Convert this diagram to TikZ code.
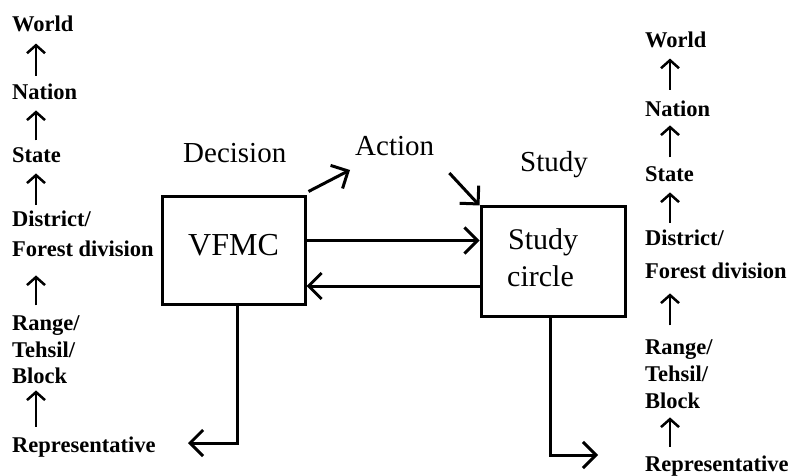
\documentclass[tikz,border=0pt]{standalone}
\usepackage{fontspec}
\setmainfont{Liberation Serif}
\usetikzlibrary{arrows.meta}
\begin{document}
\begin{tikzpicture}[x=1pt,y=-1pt,
  lvl/.style={anchor=base west, inner sep=0pt, font=\bfseries\fontsize{22.5}{27}\selectfont},
  lab/.style={anchor=base west, inner sep=0pt, font=\fontsize{29}{34}\selectfont},
  boxtext/.style={anchor=base west, inner sep=0pt, font=\fontsize{30}{35}\selectfont},
  blk/.style={draw, line width=3pt, minimum width=143pt, minimum height=107pt, inner sep=0pt},
  big/.style={line width=3pt, -{Straight Barb[length=13pt,width=26pt]}},
  up/.style={line width=2.5pt, -{Straight Barb[length=8pt,width=18pt]}},
]
\useasboundingbox (0,0) rectangle (796,476);

% left column
\node[lvl] (lW) at (12,32) {World};
\node[lvl] (lN) at (12,100) {Nation};
\node[lvl] (lS) at (12,163) {State};
\node[lvl] (lD) at (12,226) {District/};
\node[lvl] (lF) at (12,257) {Forest division};
\node[lvl] (lR) at (12,330) {Range/};
\node[lvl] (lT) at (12,357) {Tehsil/};
\node[lvl] (lB) at (12,383) {Block};
\node[lvl] (lRep) at (12,452) {Representative};
\coordinate (lax) at (36,0);
\draw[up, shorten <=8.5pt, shorten >=11pt] (lN.north -| lax) -- (lW.south -| lax);
\draw[up, shorten <=7.5pt, shorten >=10pt] (lS.north -| lax) -- (lN.south -| lax);
\draw[up, shorten <=5pt, shorten >=10pt] (lD.north -| lax) -- (lS.south -| lax);
\draw[up, shorten <=9.5pt, shorten >=18pt] (lR.north -| lax) -- (lF.south -| lax);
\draw[up, shorten <=9.5pt, shorten >=7pt] (lRep.north -| lax) -- (lB.south -| lax);

% right column
\node[lvl] (rW) at (645,48) {World};
\node[lvl] (rN) at (645,117) {Nation};
\node[lvl] (rS) at (645,182) {State};
\node[lvl] (rD) at (645,245) {District/};
\node[lvl] (rF) at (645,278) {Forest division};
\node[lvl] (rR) at (645,354) {Range/};
\node[lvl] (rT) at (645,381) {Tehsil/};
\node[lvl] (rB) at (645,408) {Block};
\node[lvl] (rRep) at (645,471) {Representative};
\coordinate (rax) at (670,0);
\draw[up, shorten <=11.5pt, shorten >=10pt] (rN.north -| rax) -- (rW.south -| rax);
\draw[up, shorten <=9.5pt, shorten >=8pt] (rS.north -| rax) -- (rN.south -| rax);
\draw[up, shorten <=6.5pt, shorten >=10pt] (rD.north -| rax) -- (rS.south -| rax);
\draw[up, shorten <=13.5pt, shorten >=15pt] (rR.north -| rax) -- (rF.south -| rax);
\draw[up, shorten <=8.5pt, shorten >=9pt] (rRep.north -| rax) -- (rB.south -| rax);

% centre
\node[lab] (dec) at (183,163) {Decision};
\node[lab] (act) at (355,156) {Action};
\node[lab] (stu) at (520,172) {Study};
\node[blk] (vfmc) at (233.5,250.5) {};
\node[boxtext, font=\fontsize{32}{36}\selectfont] (vfmct) at (188,255) {VFMC};
\node[blk, minimum width=144pt, minimum height=109pt] (sc) at (553,261.5) {};
\node[boxtext] (sct1) at (508,249) {Study};
\node[boxtext] (sct2) at (507,286) {circle};

\draw[big] ([shift={(2pt,4pt)}]vfmc.north east) -- ([shift={(-5pt,-14pt)}]act.base west);
\draw[big] ([shift={(15pt,-17pt)}]act.base east) -- (sc.north west);
\draw[big] ([yshift=10pt]vfmc.east) -- ([yshift=10pt]vfmc.east -| sc.west);
\draw[big] ([yshift=-35.5pt]vfmc.east -| sc.west) -- ([yshift=-35.5pt]vfmc.east);
\coordinate (vout) at (188,443);
\draw[big] ([xshift=3.5pt]vfmc.south) |- (vout);
\coordinate (sout) at (598,455);
\draw[big] ([xshift=-3pt]sc.south) |- (sout);
\end{tikzpicture}
\end{document}
